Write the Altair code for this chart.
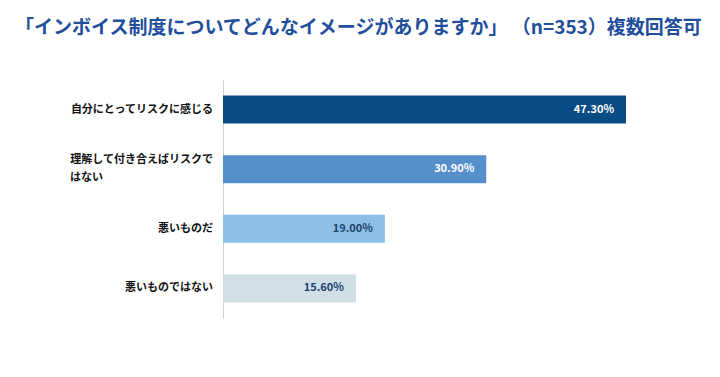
import altair as alt
import pandas as pd

categories = ["自分にとってリスクに感じる", "理解して付き合えばリスクではない", "悪いものだ", "悪いものではない"]
label_line1 = ["自分にとってリスクに感じる", "理解して付き合えばリスクで", "悪いものだ", "悪いものではない"]
label_line2 = ["", "はない", "", ""]
values = [47.3, 30.9, 19.0, 15.6]
labels = ["47.30%", "30.90%", "19.00%", "15.60%"]
bar_colors = ["#084b85", "#5590cc", "#8cbfe3", "#d0dfe6"]
text_colors = ["#ffffff", "#ffffff", "#1d3f6e", "#1d3f6e"]

df = pd.DataFrame({"cat": categories, "l1": label_line1, "l2": label_line2,
                   "val": values, "lab": labels, "bc": bar_colors, "tc": text_colors})

y = alt.Y("cat:N", sort=categories, title=None,
          scale=alt.Scale(paddingInner=0.53, paddingOuter=0.26),
          axis=alt.Axis(labels=False, ticks=False, domainColor="#d0d0d0"))
x = alt.X("val:Q", title=None, scale=alt.Scale(domain=[0, 50], nice=False), axis=None)

base = alt.Chart(df)
lab_style = dict(font="Noto Sans CJK JP", fontWeight="bold", fontSize=11, color="#111111")

bars = base.mark_bar().encode(x=x, y=y, color=alt.Color("bc:N", scale=None))

text = base.mark_text(align="right", dx=-12, font="Noto Sans CJK JP",
                      fontWeight="bold", fontSize=11).encode(
    x=x, y=alt.Y("cat:N", sort=categories), text="lab:N", color=alt.Color("tc:N", scale=None))

single = base.transform_filter("datum.l2 == ''").mark_text(align="right", **lab_style).encode(
    x=alt.value(-10), y=alt.Y("cat:N", sort=categories), text="l1:N")
first = base.transform_filter("datum.l2 != ''").mark_text(align="right", dy=-9, **lab_style).encode(
    x=alt.value(-10), y=alt.Y("cat:N", sort=categories), text="l1:N")
second = base.transform_filter("datum.l2 != ''").mark_text(align="left", dy=9, **lab_style).encode(
    x=alt.value(-153), y=alt.Y("cat:N", sort=categories), text="l2:N")

chart = alt.layer(bars, text, single, first, second).properties(
    width=426, height=238,
    autosize=alt.AutoSizeParams(type="none"),
    padding={"left": 223, "top": 80, "right": 71, "bottom": 59},
    title=alt.TitleParams("「インボイス制度についてどんなイメージがありますか」 （n=353）複数回答可",
                          anchor="start", frame="group", dx=-208, offset=42, limit=720,
                          font="Noto Sans CJK JP", fontSize=19, fontWeight="bold",
                          color="#1f4e9c"),
).configure_view(stroke=None)

chart.save("out.html", embed_options={"renderer": "svg", "actions": False})
